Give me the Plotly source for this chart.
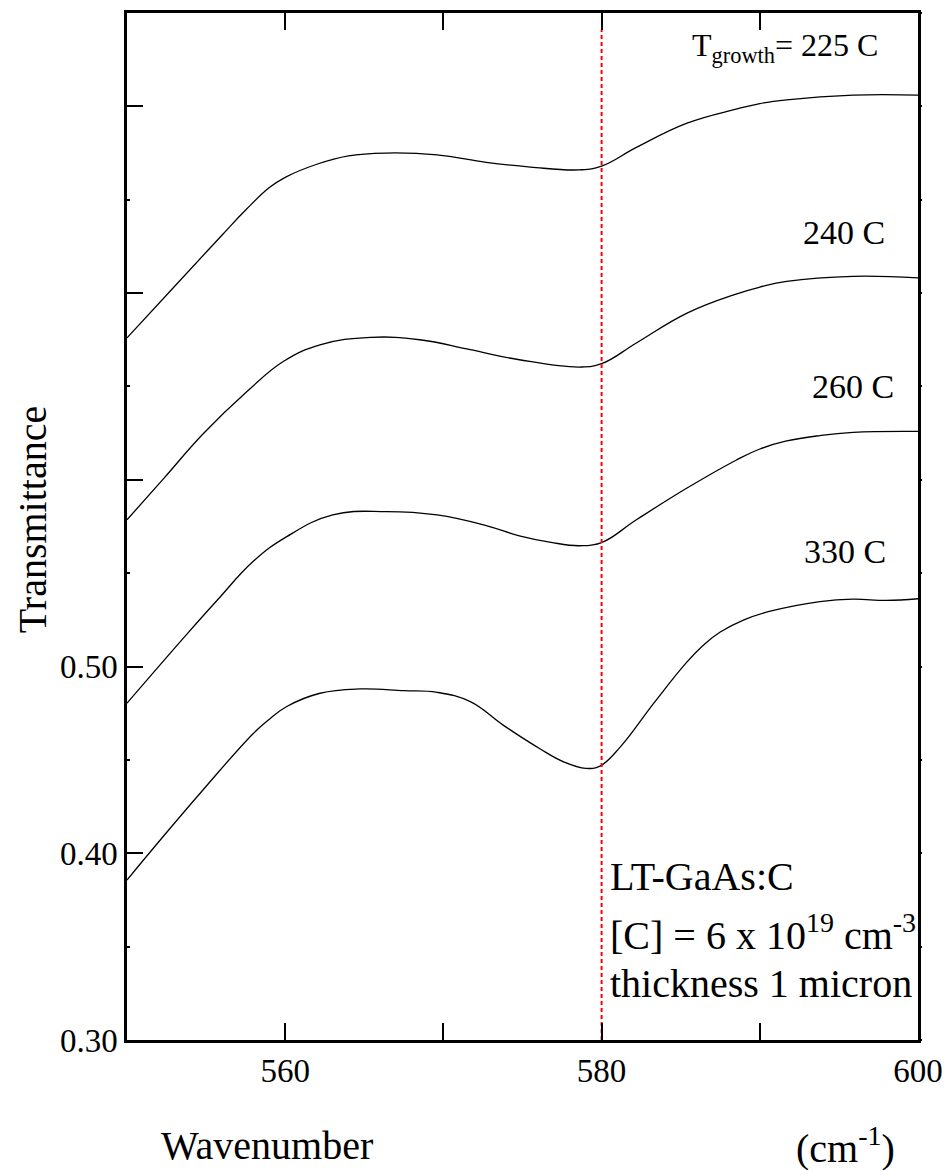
import plotly.graph_objects as go

# ---- data ----
x_225 = [550, 553, 556, 557.5, 559, 560, 562, 564, 566.4, 569.6, 572.7, 575.5, 578.6, 580.0, 582.2, 585.4, 588.5, 590.0, 591.7, 595.9, 600]
y_225 = [0.676, 0.7035, 0.731, 0.7445, 0.7565, 0.762, 0.769, 0.7735, 0.775, 0.774, 0.770, 0.7675, 0.766, 0.768, 0.778, 0.791, 0.7985, 0.8015, 0.8035, 0.806, 0.806]

x_240 = [550, 552.3, 554.8, 557.6, 559.9, 562.2, 565.4, 568.5, 571.7, 574.8, 578.6, 580.0, 582.2, 585.4, 588.5, 590.0, 591.7, 595.9, 600]
y_240 = [0.5786, 0.6005, 0.6245, 0.6474, 0.6635, 0.6723, 0.6763, 0.675, 0.6697, 0.6643, 0.6604, 0.6622, 0.6733, 0.6893, 0.6995, 0.7032, 0.7063, 0.709, 0.7081]

x_260 = [550, 553.8, 555.7, 558.0, 560.1, 563.0, 566.4, 569.6, 572.7, 574.8, 576.8, 578.6, 580.0, 582.2, 585.4, 588.5, 590.0, 591.7, 593.8, 595.9, 600]
y_260 = [0.4804, 0.5175, 0.5355, 0.5565, 0.5696, 0.5812, 0.583, 0.5812, 0.5755, 0.5700, 0.5665, 0.5647, 0.5664, 0.5786, 0.5956, 0.6105, 0.6165, 0.6208, 0.6237, 0.6254, 0.6259]

x_330 = [550, 552.3, 554.8, 558.0, 559.0, 560.1, 562.2, 564.7, 567.5, 569.6, 571.7, 573.8, 576.1, 577.6, 579.0, 579.9, 581.2, 583.3, 585.4, 586.5, 587.5, 589.0, 590.6, 593.8, 595.9, 598.0, 600]
y_330 = [0.3857, 0.4091, 0.4339, 0.4643, 0.4718, 0.4786, 0.4857, 0.488, 0.4871, 0.4862, 0.4812, 0.4685, 0.4560, 0.4490, 0.4455, 0.4467, 0.4571, 0.4804, 0.5025, 0.5120, 0.5185, 0.5250, 0.5295, 0.5348, 0.5361, 0.5354, 0.5363]

marker_wavenumber = 580
marker_y = [0.30, 0.841]

x_range = [550, 600]
y_range = [0.30, 0.85]
x_tickvals = [560, 580, 600]
x_ticktext = ["560", "580", "600"]
y_tickvals = [0.30, 0.40, 0.50, 0.60, 0.70, 0.80]
y_ticktext = ["0.30", "0.40", "0.50", "", "", ""]

curve_labels = ["240 C", "260 C", "330 C"]
curve_label_x = [595.3, 595.9, 595.4]
curve_label_y = [0.7323, 0.6500, 0.5616]

SERIF = "Liberation Serif"

fig = go.Figure()
for xs, ys in [(x_225, y_225), (x_240, y_240), (x_260, y_260), (x_330, y_330)]:
    fig.add_trace(go.Scatter(x=xs, y=ys, mode="lines",
                             line=dict(color="black", width=1.3, shape="spline", smoothing=1.2),
                             showlegend=False, hoverinfo="skip"))

fig.add_trace(go.Scatter(x=[marker_wavenumber, marker_wavenumber], y=marker_y, mode="lines",
                         line=dict(color="red", width=2, dash="4px,3px"),
                         showlegend=False, hoverinfo="skip"))

# invisible trace to activate right-hand axis with small ticks
fig.add_trace(go.Scatter(x=[550], y=[0.3], yaxis="y2", mode="markers",
                         marker=dict(opacity=0), showlegend=False, hoverinfo="skip"))

fig.update_layout(
    width=949, height=1170,
    margin=dict(l=127, r=31, t=13, b=130, autoexpand=False),
    paper_bgcolor="white", plot_bgcolor="white",
    font=dict(family=SERIF, color="black"),
    xaxis=dict(range=x_range, tickvals=x_tickvals, ticktext=x_ticktext,
               ticks="inside", ticklen=17, tickwidth=2, tickcolor="black",
               minor=dict(dtick=10, tick0=550, ticks="inside", ticklen=9, tickwidth=2, tickcolor="black"),
               showline=True, linewidth=2.5, linecolor="black", mirror="allticks",
               showgrid=False, zeroline=False, automargin=False,
               tickfont=dict(family=SERIF, size=33, color="black")),
    yaxis=dict(range=y_range, tickvals=y_tickvals, ticktext=y_ticktext,
               ticks="inside", ticklen=16, tickwidth=2, tickcolor="black",
               minor=dict(dtick=0.05, tick0=0.3, ticks="inside", ticklen=3, tickwidth=2, tickcolor="black"),
               showline=True, linewidth=2.5, linecolor="black", mirror=True,
               showgrid=False, zeroline=False, automargin=False,
               tickfont=dict(family=SERIF, size=33, color="black")),
    yaxis2=dict(range=y_range, overlaying="y", side="right", dtick=0.05, tick0=0.3,
                ticks="outside", ticklen=3, tickwidth=2, tickcolor="black", automargin=False,
                showticklabels=False, showgrid=False, zeroline=False, showline=False),
)

ann = []
ann.append(dict(x=585.6, y=0.8314, xref="x", yref="y", xanchor="left", yanchor="middle",
                text="T<sub>growth</sub>= 225 C", showarrow=False,
                font=dict(family=SERIF, size=32, color="black")))
for t, xx, yy in zip(curve_labels, curve_label_x, curve_label_y):
    ann.append(dict(x=xx, y=yy, xref="x", yref="y", xanchor="center", yanchor="middle",
                    text=t, showarrow=False, font=dict(family=SERIF, size=34, color="black")))

info_lines = ["LT-GaAs:C", "[C] = 6 x 10<sup>19</sup> cm<sup>-3</sup>", "thickness 1 micron"]
info_y = [0.3875, 0.3575, 0.3300]
for t, yy in zip(info_lines, info_y):
    ann.append(dict(x=580.4, y=yy, xref="x", yref="y", xanchor="left", yanchor="middle",
                    text=t, showarrow=False, font=dict(family=SERIF, size=40, color="black")))

ann.append(dict(x=-0.1196, y=0.5065, xref="paper", yref="paper", xanchor="center", yanchor="middle",
                text="Transmittance", textangle=-90, showarrow=False,
                font=dict(family=SERIF, size=40, color="black")))
ann.append(dict(x=(267 - 126.7) / 791.6, y=(1040 - 1145) / 1026.6, xref="paper", yref="paper",
                xanchor="center", yanchor="middle", text="Wavenumber", showarrow=False,
                font=dict(family=SERIF, size=40, color="black")))
ann.append(dict(x=(846 - 126.7) / 791.6, y=(1040 - 1145) / 1026.6, xref="paper", yref="paper",
                xanchor="center", yanchor="middle", text="(cm<sup>-1</sup>)", showarrow=False,
                font=dict(family=SERIF, size=40, color="black")))
fig.update_layout(annotations=ann)

fig.write_html("out.html")
